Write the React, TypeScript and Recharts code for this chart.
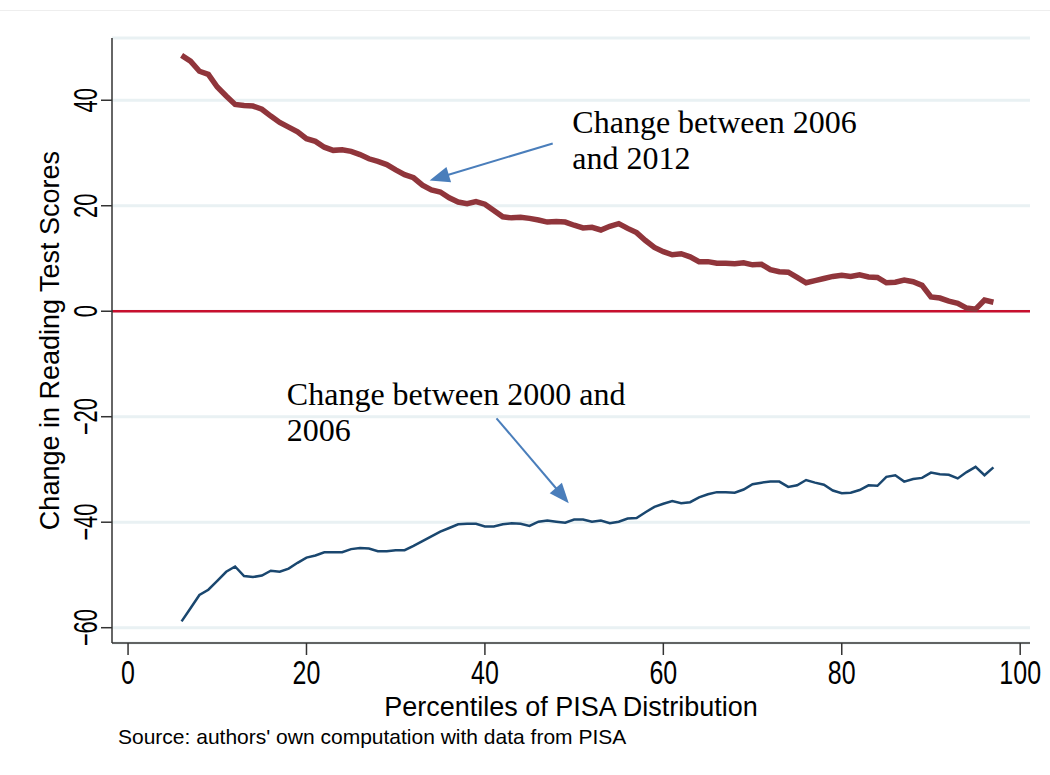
import { LineChart, Line, XAxis, YAxis, CartesianGrid, ReferenceLine, ReferenceDot } from 'recharts';

const PERCENTILES = [
  6, 7, 8, 9, 10, 11, 12, 13, 14, 15, 16, 17, 18, 19, 20, 21, 22, 23, 24, 25, 26, 27, 28, 29, 30, 31,
  32, 33, 34, 35, 36, 37, 38, 39, 40, 41, 42, 43, 44, 45, 46, 47, 48, 49, 50, 51, 52, 53, 54, 55, 56,
  57, 58, 59, 60, 61, 62, 63, 64, 65, 66, 67, 68, 69, 70, 71, 72, 73, 74, 75, 76, 77, 78, 79, 80, 81,
  82, 83, 84, 85, 86, 87, 88, 89, 90, 91, 92, 93, 94, 95, 96, 97,
];

// change between 2006 and 2012
const CHANGE_2006_2012 = [
  48.5, 47.4, 45.5, 44.9, 42.5, 40.8, 39.2, 39.0, 38.9, 38.3, 37.0, 35.8, 34.9, 34.0, 32.7, 32.2,
  31.1, 30.5, 30.6, 30.3, 29.7, 28.9, 28.4, 27.8, 26.8, 25.9, 25.3, 23.9, 23.0, 22.6, 21.5, 20.7,
  20.4, 20.8, 20.3, 19.1, 17.9, 17.7, 17.8, 17.6, 17.3, 16.9, 17.0, 16.9, 16.3, 15.8, 15.9, 15.4,
  16.1, 16.6, 15.7, 14.9, 13.4, 12.1, 11.3, 10.7, 10.9, 10.3, 9.4, 9.4, 9.1, 9.1, 9.0, 9.2,
  8.8, 8.9, 7.9, 7.5, 7.4, 6.4, 5.4, 5.8, 6.2, 6.6, 6.8, 6.6, 6.9, 6.5, 6.4, 5.4, 5.5, 5.9, 5.6,
  4.9, 2.7, 2.5, 1.9, 1.5, 0.6, 0.4, 2.1, 1.7,
];

// change between 2000 and 2006
const CHANGE_2000_2006 = [
  -58.8, -56.3, -53.8, -52.8, -51.1, -49.4, -48.4, -50.2, -50.4, -50.1, -49.2, -49.4, -48.8, -47.7,
  -46.7, -46.3, -45.7, -45.7, -45.7, -45.1, -44.9, -45.0, -45.5, -45.5, -45.3, -45.3, -44.5, -43.6,
  -42.7, -41.8, -41.1, -40.4, -40.3, -40.3, -40.8, -40.8, -40.4, -40.2, -40.3, -40.7, -39.9, -39.7,
  -39.9, -40.1, -39.5, -39.5, -39.9,
  -39.7, -40.2, -39.9, -39.3, -39.2, -38.1, -37.1, -36.5, -36.0, -36.4, -36.2, -35.3, -34.7, -34.3,
  -34.3, -34.4, -33.8, -32.8, -32.5, -32.3, -32.3, -33.3, -33.0, -32.0, -32.5, -32.9, -34.0, -34.5,
  -34.4, -33.9, -33.0, -33.1, -31.4, -31.1, -32.3, -31.8, -31.6, -30.6, -30.9, -31.0, -31.7, -30.5,
  -29.5, -31.1, -29.6,
];

const X_TICKS = [0, 20, 40, 60, 80, 100];
const Y_TICKS = [-60, -40, -20, 0, 20, 40];

const data = PERCENTILES.map((p, i) => ({
  p,
  late: CHANGE_2006_2012[i],
  early: CHANGE_2000_2006[i],
}));

const SANS = '"Liberation Sans", Arial, Helvetica, sans-serif';
const SERIF = '"Liberation Serif", "Times New Roman", serif';
const ARROW = '#4a7ebb';

function Arrow(props: any) {
  const { x1, y1, x2, y2 } = props;
  const dx = x2 - x1;
  const dy = y2 - y1;
  const len = Math.sqrt(dx * dx + dy * dy);
  const ux = dx / len;
  const uy = dy / len;
  const head = 20;
  const half = 8;
  const bx = x2 - ux * head;
  const by = y2 - uy * head;
  const pts = `${x2},${y2} ${bx - uy * half},${by + ux * half} ${bx + uy * half},${by - ux * half}`;
  return (
    <g>
      <line x1={x1} y1={y1} x2={bx + ux * 2} y2={by + uy * 2} stroke={ARROW} strokeWidth={2} />
      <polygon points={pts} fill={ARROW} />
    </g>
  );
}

function annotation(lines: string[]) {
  return (props: any) => (
    <text x={props.cx} y={props.cy} fontFamily={SERIF} fontSize={32} fill="#000">
      {lines.map((l, i) => (
        <tspan key={i} x={props.cx} dy={i === 0 ? 0 : 36}>
          {l}
        </tspan>
      ))}
    </text>
  );
}

const fmt = (v: number) => String(v).replace('-', '\u2212');

// stata draws the tick labels tall and narrow
function XTick(props: any) {
  const { x, y, payload } = props;
  return (
    <text
      transform={`translate(${x}, ${y + 21}) scale(1, 1.35)`}
      textAnchor="middle"
      fontFamily={SANS}
      fontSize={25}
      fill="#000"
    >
      {fmt(payload.value)}
    </text>
  );
}

function YTick(props: any) {
  const { x, y, payload } = props;
  return (
    <text
      transform={`translate(${x}, ${y}) rotate(-90) scale(1, 1.5)`}
      textAnchor="middle"
      fontFamily={SANS}
      fontSize={22}
      fill="#000"
    >
      {fmt(payload.value)}
    </text>
  );
}

export default function App() {
  return (
    <div style={{ position: 'absolute', left: 0, top: 0, width: 1050, height: 775, background: '#fff' }}>
      <div style={{ position: 'absolute', left: 0, top: 10, width: 1050, borderTop: '1px solid #eeeeee' }} />
      <LineChart
        width={1050}
        height={775}
        data={data}
        margin={{ top: 38, right: 20, bottom: 0, left: 0 }}
      >
        <CartesianGrid vertical={false} stroke="#e9f1f3" strokeWidth={3} />
        <XAxis
          dataKey="p"
          type="number"
          domain={[-1.8, 101.1]}
          ticks={X_TICKS}
          height={132}
          stroke="#333"
          strokeWidth={1.5}
          tickSize={12}
          tickMargin={8}
          tick={<XTick />}
          label={{
            value: 'Percentiles of PISA Distribution',
            position: 'insideTop',
            offset: 54,
            fill: '#000',
            fontFamily: SANS,
            fontSize: 27,
          }}
        />
        <YAxis
          type="number"
          domain={[-62.9, 51.8]}
          ticks={Y_TICKS}
          width={112}
          stroke="#333"
          strokeWidth={1.5}
          tickSize={11}
          tickMargin={4}
          tick={<YTick />}
          label={{
            value: 'Change in Reading Test Scores',
            angle: -90,
            position: 'insideLeft',
            offset: 49,
            fill: '#000',
            fontFamily: SANS,
            fontSize: 27,
            style: { textAnchor: 'middle' },
          }}
        />
        <ReferenceLine y={0} stroke="#c8102e" strokeWidth={2.5} />
        <Line
          dataKey="late"
          stroke="#90353b"
          strokeWidth={5.5}
          dot={false}
          isAnimationActive={false}
        />
        <Line
          dataKey="early"
          stroke="#1a476f"
          strokeWidth={2.5}
          dot={false}
          isAnimationActive={false}
        />
        <ReferenceLine
          segment={[{ x: 47.6, y: 31.8 }, { x: 33.8, y: 24.8 }]}
          shape={<Arrow />}
        />
        <ReferenceLine
          segment={[{ x: 41.3, y: -20.3 }, { x: 49.4, y: -36.4 }]}
          shape={<Arrow />}
        />
        <ReferenceDot x={49.8} y={33.7} r={0} shape={annotation(['Change between 2006', 'and 2012'])} />
        <ReferenceDot x={17.8} y={-17.8} r={0} shape={annotation(['Change between 2000 and', '2006'])} />
      </LineChart>
      <div
        style={{
          position: 'absolute',
          left: 118,
          top: 725,
          fontFamily: SANS,
          fontSize: 21,
          color: '#000',
          whiteSpace: 'nowrap',
        }}
      >
        Source: authors' own computation with data from PISA
      </div>
    </div>
  );
}
